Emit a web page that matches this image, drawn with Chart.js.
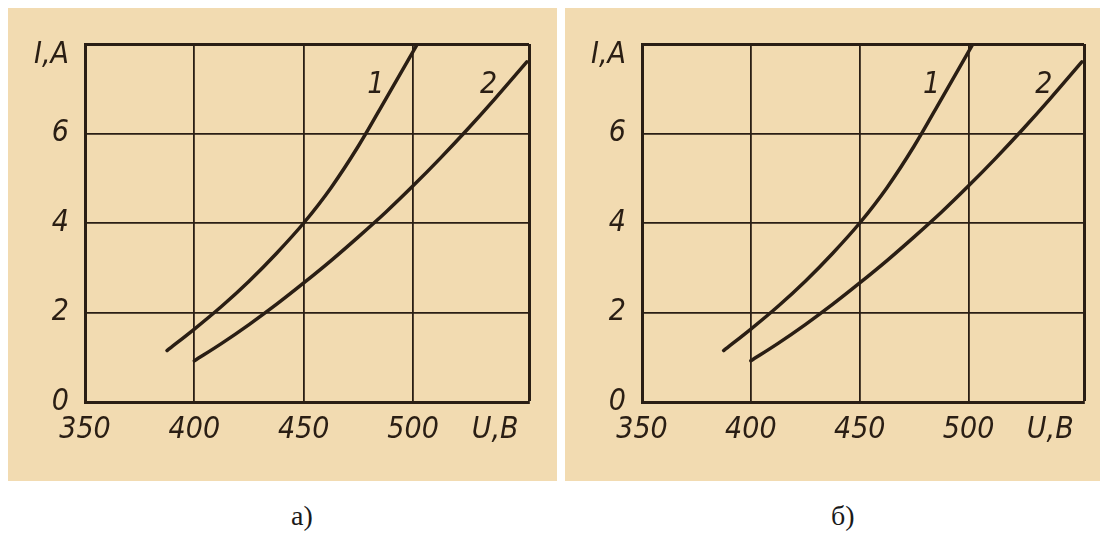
<!DOCTYPE html>
<html lang="ru">
<head>
  <meta charset="UTF-8">
  <title>I(U)</title>
  <script src="https://cdn.jsdelivr.net/npm/chart.js"></script>
  <style>
    body { margin: 0; background: #fff; width: 1105px; height: 547px; position: relative; overflow: hidden; }
    .panel { position: absolute; top: 8px; height: 473px; background: #f2dbb1; }
    .panel canvas { display: block; }
    .caption { position: absolute; top: 500px; font: 28px "Liberation Serif", "Times New Roman", serif; color: #1a1a1a; }
  </style>
</head>
<body>
  <div class="panel" style="left:8px; width:549px;"><canvas id="grafA" width="549" height="473"></canvas></div>
  <div class="panel" style="left:565px; width:535px;"><canvas id="grafB" width="535" height="473"></canvas></div>
  <div class="caption" style="left:291px;">а)</div>
  <div class="caption" style="left:831px;">б)</div>

  <script>
    // оси
    const uMin = 350, uMax = 553;
    const iMin = 0, iMax = 8;
    const uTicks = [350, 400, 450, 500];
    const iTicks = [0, 2, 4, 6];
    const uName = "U,B", uNameAt = 537.5;
    const iName = "I,A", iNameAt = 7.75;

    // кривая 1
    const curve1U = [387.5, 400, 412.5, 425, 437.5, 450, 462.5, 475, 487.5, 502];
    const curve1I = [1.15, 1.63, 2.14, 2.70, 3.32, 4.0, 4.79, 5.72, 6.77, 8.0];
    // кривая 2
    const curve2U = [400, 412.5, 425, 437.5, 450, 462.5, 475, 487.5, 500, 512.5, 525, 537.5, 552];
    const curve2I = [0.92, 1.31, 1.73, 2.18, 2.66, 3.16, 3.69, 4.24, 4.83, 5.45, 6.10, 6.78, 7.6];

    // номера кривых
    const curveNames = ["1", "2"];
    const nameU = [483, 534.5];
    const nameI = [7.07, 7.07];

    const ink = "#2a1e14";
    const fontFamily = '"DejaVu Sans Condensed", "Liberation Sans Narrow", "DejaVu Sans", sans-serif';
    const tickFont = { family: fontFamily, size: 30, style: "italic" };

    const toPoints = (xs, ys) => xs.map((x, k) => ({ x: x, y: ys[k] }));

    const curveNumbers = {
      id: "curveNumbers",
      afterDatasetsDraw(chart) {
        const ctx = chart.ctx;
        const sx = chart.scales.x, sy = chart.scales.y;
        ctx.save();
        ctx.fillStyle = ink;
        ctx.font = "italic 30px " + fontFamily;
        ctx.textAlign = "center";
        ctx.textBaseline = "middle";
        curveNames.forEach((t, k) => {
          ctx.fillText(t, sx.getPixelForValue(nameU[k]), sy.getPixelForValue(nameI[k]));
        });
        ctx.restore();
      }
    };

    function crearGrafico(id, rightPad) {
      return new Chart(document.getElementById(id), {
        type: "line",
        data: {
          datasets: [
            { data: toPoints(curve1U, curve1I) },
            { data: toPoints(curve2U, curve2I) }
          ]
        },
        options: {
          responsive: false,
          animation: false,
          layout: { padding: { top: 36, right: rightPad, left: 0, bottom: 0 } },
          elements: {
            line: { borderColor: ink, borderWidth: 3.5, cubicInterpolationMode: "monotone", fill: false, borderCapStyle: "round" },
            point: { radius: 0 }
          },
          plugins: { legend: { display: false }, tooltip: { enabled: false } },
          scales: {
            x: {
              type: "linear",
              min: uMin,
              max: uMax,
              afterBuildTicks: s => { s.ticks = [...uTicks, uNameAt, uMax].map(v => ({ value: v })); },
              afterFit: s => { s.height = 79; },
              border: { color: ink, width: 3 },
              grid: {
                drawTicks: false,
                color: c => (c.tick && c.tick.value === uNameAt) ? "rgba(0,0,0,0)" : ink,
                lineWidth: c => (c.tick && c.tick.value === uMax) ? 3 : 1.8
              },
              ticks: {
                autoSkip: false,
                maxRotation: 0,
                minRotation: 0,
                padding: 10,
                color: ink,
                font: tickFont,
                callback: v => v === uNameAt ? uName : (v === uMax ? "" : String(v))
              }
            },
            y: {
              min: iMin,
              max: iMax,
              afterBuildTicks: s => { s.ticks = [...iTicks, iNameAt, iMax].map(v => ({ value: v })); },
              afterFit: s => { s.width = 77; },
              border: { color: ink, width: 3 },
              grid: {
                drawTicks: false,
                color: c => (c.tick && c.tick.value === iNameAt) ? "rgba(0,0,0,0)" : ink,
                lineWidth: c => (c.tick && c.tick.value === iMax) ? 3 : 1.8
              },
              ticks: {
                autoSkip: false,
                padding: 16,
                color: ink,
                font: tickFont,
                callback: v => v === iNameAt ? iName : (v === iMax ? "" : String(v))
              }
            }
          }
        },
        plugins: [curveNumbers]
      });
    }

    crearGrafico("grafA", 28);
    crearGrafico("grafB", 16);
  </script>
</body>
</html>
